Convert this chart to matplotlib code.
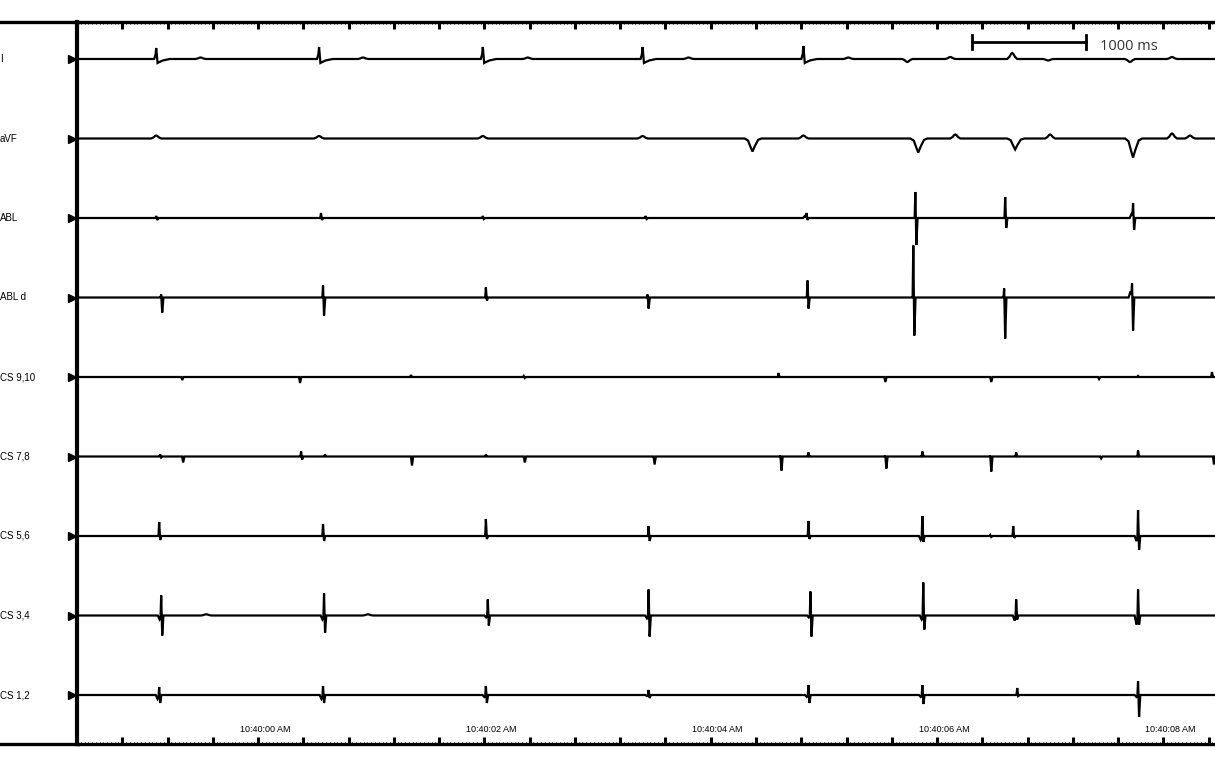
import numpy as np
import matplotlib
matplotlib.use('Agg')
import matplotlib.pyplot as plt
from matplotlib.lines import Line2D
from matplotlib.transforms import blended_transform_factory

# channel names, top to bottom
channel_names = ['I', 'aVF', 'ABL', 'ABL d', 'CS 9,10', 'CS 7,8', 'CS 5,6', 'CS 3,4', 'CS 1,2']

# events per channel: (time in s after 10:40:00, kind, up, down, pre)
lead_i = [
    (-0.962, 'qrs', 11, 4, 0), (-0.570, 'wave', 1.5, 0, 0),
    (0.477, 'qrs', 12, 4, 0), (0.865, 'wave', 1.5, 0, 0),
    (1.924, 'qrs', 12, 4, 0), (2.321, 'wave', 1.5, 0, 0),
    (3.336, 'qrs', 12, 4, 0), (3.742, 'wave', 1.5, 0, 0),
    (4.757, 'qrs', 13, 4, 0), (5.154, 'wave', 1.5, 0, 0),
    (5.675, 'wave', -3, 0, 0), (6.055, 'wave', 2, 0, 0),
    (6.602, 'wave', 6, 0, 0), (6.920, 'wave', -1.5, 0, 0),
    (7.643, 'wave', -3, 0, 0), (8.014, 'wave', 2, 0, 0),
]
lead_avf = [
    (-0.962, 'wave', 3, 0, 0), (0.477, 'wave', 2.5, 0, 0),
    (1.924, 'wave', 2.5, 0, 0), (3.336, 'wave', 2.5, 0, 0),
    (4.307, 'dip', 13, 0, 0), (4.757, 'wave', 3, 0, 0),
    (5.772, 'dip', 14, 0, 0), (6.099, 'wave', 4, 0, 0),
    (6.628, 'dip', 11, 0, 0), (6.937, 'wave', 4, 0, 0),
    (7.670, 'dip', 19, 0, 0), (8.014, 'wave', 5, 0, 0),
    (8.173, 'wave', 3, 0, 0),
]
abl = [
    (-0.962, 'spike', 2, 2, 0), (0.494, 'spike', 5, 2, 0),
    (1.924, 'spike', 2, 1, 0), (3.363, 'spike', 2, 1, 0),
    (4.784, 'spike', 5, 2, -2), (5.746, 'spike', 26, 27, 0),
    (6.540, 'spike', 21, 10, 0), (7.670, 'spike', 15, 12, -4),
]
abl_d = [
    (-0.918, 'spike', 3, 15, 0), (0.512, 'spike', 12, 18, 0),
    (1.951, 'spike', 10, 3, 0), (3.380, 'spike', 3, 11, 0),
    (4.793, 'spike', 17, 11, 0), (5.728, 'spike', 52, 38, 0),
    (6.531, 'spike', 9, 41, 0), (7.661, 'spike', 14, 33, -6),
]
cs_9_10 = [
    (-0.741, 'spike', 0, 3, 0), (0.300, 'spike', 0, 6, 0),
    (1.289, 'spike', 2, 0, 0), (2.286, 'spike', 1, 1, 0),
    (4.537, 'spike', 4, 0, 0), (5.472, 'spike', 0, 5, 0),
    (6.408, 'spike', 0, 5, 0), (7.361, 'spike', 0, 2, 0),
    (7.714, 'spike', 1, 0, 0), (8.367, 'spike', 5, 0, 0),
]
cs_7_8 = [
    (-0.927, 'spike', 2, 1, 0), (-0.733, 'spike', 0, 6, 0),
    (0.318, 'spike', 5, 3, 0), (0.530, 'spike', 2, 0, 0),
    (1.289, 'spike', 0, 9, 0), (1.951, 'spike', 2, 0, 0),
    (2.286, 'spike', 0, 6, 0), (3.433, 'spike', 0, 8, 0),
    (4.554, 'spike', 1, 14, 0), (4.801, 'spike', 4, 0, 0),
    (5.481, 'spike', 1, 12, 0), (5.808, 'spike', 5, 0, 0),
    (6.408, 'spike', 1, 15, 0), (6.637, 'spike', 4, 0, 0),
    (7.379, 'spike', 0, 2, 0), (7.714, 'spike', 6, 0, 0),
    (8.376, 'spike', 0, 8, 0),
]
cs_5_6 = [
    (-0.936, 'spike', 14, 4, 0), (0.512, 'spike', 12, 5, 0),
    (1.951, 'spike', 17, 3, 0), (3.389, 'spike', 10, 5, 0),
    (4.801, 'spike', 15, 3, 0), (5.808, 'spike', 20, 6, 4),
    (6.408, 'spike', 1, 1, 0), (6.611, 'spike', 10, 2, 0),
    (7.714, 'spike', 26, 14, 5),
]
cs_3_4 = [
    (-0.918, 'spike', 20, 20, 4), (-0.520, 'wave', 1.2, 0, 0),
    (0.521, 'spike', 22, 17, 4), (0.909, 'wave', 1.2, 0, 0),
    (1.968, 'spike', 16, 10, 2), (3.389, 'spike', 26, 21, 3),
    (4.819, 'spike', 24, 21, 2), (5.816, 'spike', 33, 14, 4),
    (6.637, 'spike', 16, 4, 5), (7.714, 'spike', 26, 9, 9),
]
cs_1_2 = [
    (-0.936, 'spike', 8, 8, 4), (0.512, 'spike', 9, 8, 4),
    (1.951, 'spike', 9, 8, 2), (3.389, 'spike', 5, 3, 1),
    (4.801, 'spike', 10, 8, 2), (5.808, 'spike', 10, 9, 2),
    (6.646, 'spike', 7, 1, 0), (7.714, 'spike', 14, 22, 2),
]
channel_events = [lead_i, lead_avf, abl, abl_d, cs_9_10, cs_7_8, cs_5_6, cs_3_4, cs_1_2]

time_labels = ['10:40:00 AM', '10:40:02 AM', '10:40:04 AM', '10:40:06 AM', '10:40:08 AM']
label_times = [0, 2, 4, 6, 8]

scale_bar = (6.25, 7.25)   # 1000 ms
t_start, t_end = -1.650, 8.394
row_gap = 79.5


def shape(kind, a, b, c):
    # vertex offsets (ms) and deflections for one complex
    if kind == 'qrs':
        return [-18, -6, 0, 12, 25, 60, 120], [0, a * 0.4, a, -b, -b * 0.8, -b * 0.35, 0]
    if kind == 'wave':
        return [-45, -25, -10, 0, 10, 25, 45], [0, a * 0.35, a * 0.85, a, a * 0.85, a * 0.35, 0]
    if kind == 'dip':
        return [-70, -40, -15, 0, 20, 50, 80], [0, -a * 0.15, -a * 0.7, -a, -a * 0.6, -a * 0.1, 0]
    # intracardiac spike, optional small pre deflection
    return [-30, -14, -6, 0, 9, 20], [0, -c, -c * 0.6, a, -b, 0]


def build_trace(events):
    xs, ys = [t_start], [0.0]
    for t, kind, a, b, c in sorted(events):
        dts, dys = shape(kind, a, b, c)
        for dt, dy in zip(dts, dys):
            xs.append(t + dt / 1000.0)
            ys.append(dy)
    xs.append(t_end)
    ys.append(0.0)
    return np.array(xs), np.array(ys)


fig = plt.figure(figsize=(12.15, 7.68), dpi=100)
ax = fig.add_axes([77 / 1215, 24 / 768, 1 - 77 / 1215, (744 - 22) / 768])
ax.set_xlim(t_start, t_end)
ax.set_ylim(-(744 - 59), 59 - 22)

for i, events in enumerate(channel_events):
    x, y = build_trace(events)
    ax.plot(x, y - i * row_gap, color='black', lw=1.6, solid_joinstyle='miter')

# frame
ax.spines['right'].set_visible(False)
ax.spines['left'].set_linewidth(3.0)
ax.spines['top'].set_linewidth(2.4)
ax.spines['bottom'].set_linewidth(2.4)
fig.add_artist(Line2D([0, 78 / 1215], [1 - 21.5 / 768] * 2, color='black', lw=2.4, transform=fig.transFigure))
fig.add_artist(Line2D([0, 78 / 1215], [24 / 768] * 2, color='black', lw=2.4, transform=fig.transFigure))

ax.set_xticks(np.arange(-1.262, t_end, 0.4))
ax.set_xticks(np.arange(-1.262 - 0.4, t_end, 0.4 / 12), minor=True)
ax.set_yticks([])
ax.tick_params(axis='x', which='major', direction='in', length=5, width=2.2, top=True, bottom=True,
               labelbottom=False)
ax.tick_params(axis='x', which='minor', direction='in', length=1.5, width=0.7, top=True, bottom=True)

# time labels
for t, lab in zip(label_times, time_labels):
    ax.text(t, 59 - 729, lab, ha='center', va='center', fontsize=6.5, family='Liberation Sans')

# channel names and markers
trans = blended_transform_factory(fig.transFigure, ax.transData)
for i, name in enumerate(channel_names):
    ax.text(0.0, -i * row_gap, name, transform=trans, ha='left', va='center', fontsize=7,
            family='Liberation Sans')
    ax.plot([72 / 1215], [-i * row_gap], marker='>', ms=6, color='black', transform=trans, clip_on=False)

# 1000 ms scale bar
ax.plot(scale_bar, [17, 17], color='black', lw=2.0)
for sx in scale_bar:
    ax.plot([sx, sx], [10, 24], color='black', lw=2.0)
ax.text(7.379, 12, '1000 ms', ha='left', va='center', fontsize=10.5, family='Open Sans', color='#333333')

fig.savefig('out.png', dpi=100)
